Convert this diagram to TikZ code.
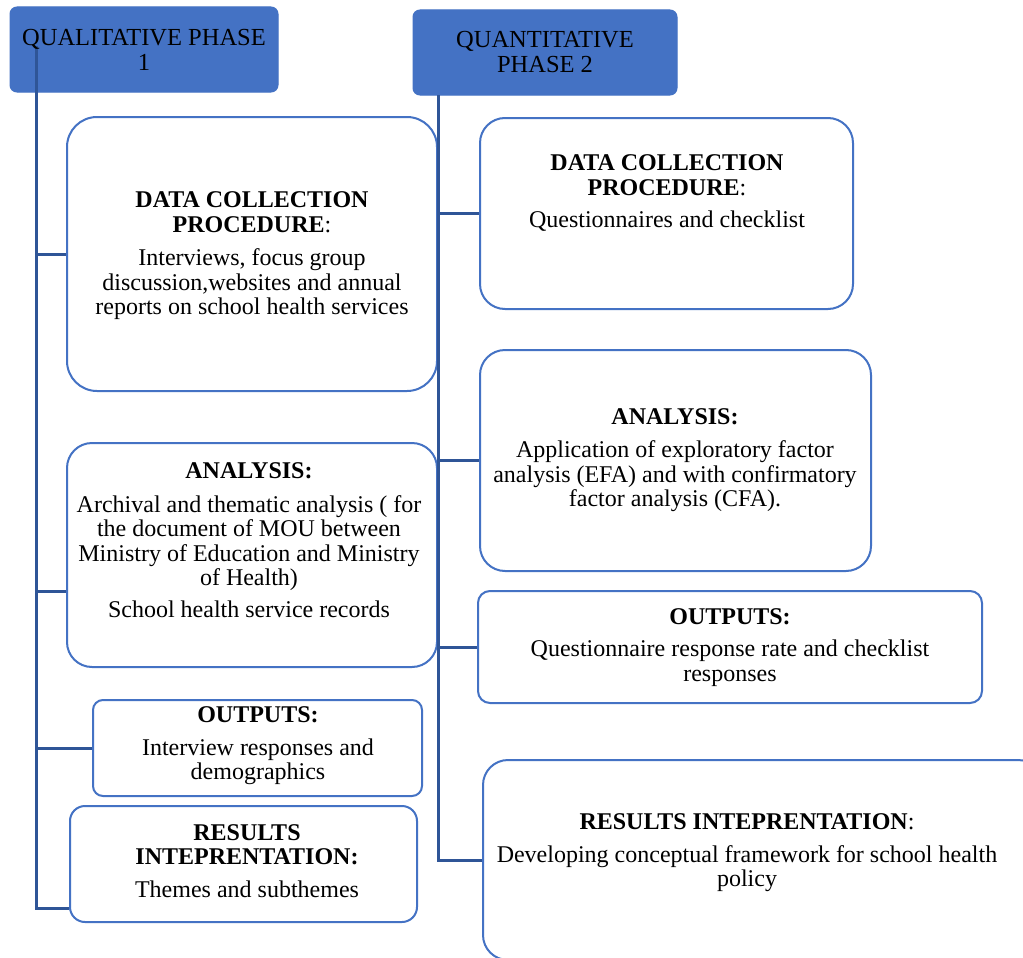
\documentclass[tikz,border=0pt]{standalone}
\usepackage{fontspec}
\setmainfont{Liberation Serif}
\definecolor{hdrblue}{HTML}{4472C4}
\definecolor{boxblue}{HTML}{4472C4}
\definecolor{linkblue}{HTML}{2F5597}
\tikzset{
  hdr/.style={draw=hdrblue, fill=hdrblue, rounded corners=7pt, line width=1pt},
  bx/.style={draw=boxblue, line width=2pt, fill=white},
  link/.style={draw=linkblue, line width=3pt},
  txt/.style={align=center, font=\fontsize{24}{24.5}\selectfont, inner sep=0pt},
  hdrtxt/.style={align=center, font=\fontsize{24.5}{24.5}\selectfont, inner sep=0pt}
}
\begin{document}
\begin{tikzpicture}[x=1pt,y=-1pt]
\useasboundingbox (0,0) rectangle (1023,958);
\clip (0,0) rectangle (1023,958);
\fill[white] (0,0) rectangle (1023,958);
% headers
\node[hdr, minimum width=268pt, minimum height=85pt] (H1) at (144,49.5) {};
\node[hdr, minimum width=264pt, minimum height=85pt] (H2) at (545,52.5) {};
% spines
\coordinate (Ltop) at (36,46);
\coordinate (Lbot) at (36,908);
\coordinate (Rtop) at (438,95);
\coordinate (Rbot) at (438,860);
% boxes left
\node[bx, rounded corners=30pt, minimum width=370pt, minimum height=274pt] (DC1) at (252,254) {};
\node[bx, rounded corners=25pt, minimum width=370pt, minimum height=224pt] (AN1) at (252,555) {};
\node[bx, rounded corners=10pt, minimum width=329pt, minimum height=96pt] (OUT1) at (257.5,748) {};
\node[bx, rounded corners=15pt, minimum width=347pt, minimum height=116pt] (RES1) at (243.5,864) {};
% boxes right
\node[bx, rounded corners=25pt, minimum width=373pt, minimum height=191pt] (DC2) at (666.5,213.5) {};
\node[bx, rounded corners=25pt, minimum width=391pt, minimum height=221pt] (AN2) at (675.5,460.5) {};
\node[bx, rounded corners=12pt, minimum width=504pt, minimum height=112pt] (OUT2) at (730,647) {};
\node[bx, rounded corners=25pt, minimum width=560pt, minimum height=200pt] (RES2) at (763,860) {};
% connectors
\draw[link] (Ltop) -- (Lbot) -- (Lbot -| RES1.west);
\draw[link] (Ltop |- DC1.west) -- (DC1.west);
\draw[link] (Ltop |- Lbot) ++(0,-317) coordinate (a1) -- (a1 -| AN1.west);
\draw[link] (Ltop |- OUT1.west) -- (OUT1.west);
\draw[link] (Rtop) -- (Rbot) -- (Rbot -| RES2.west);
\draw[link] (Rtop |- DC2.west) -- (DC2.west);
\draw[link] (Rtop |- AN2.west) -- (AN2.west);
\draw[link] (Rtop |- OUT2.west) -- (OUT2.west);
% header texts
\node[hdrtxt] (T1) at (144,50) {QUALITATIVE PHASE\\1};
\node[hdrtxt] (T2) at (545,52) {QUANTITATIVE\\PHASE 2};
% left texts
\node[txt] (tDC1) at (252,256) {\textbf{DATA COLLECTION}\\\textbf{PROCEDURE}:\\[9pt]Interviews, focus group\\discussion,websites and annual\\reports on school health services};
\node[txt] (tAN1) at (249,540) {\textbf{ANALYSIS:}\\[9pt]Archival and thematic analysis ( for\\the document of MOU between\\Ministry of Education and Ministry\\of Health)\\[7pt]School health service records};
\node[txt] (tOUT1) at (258,746) {\textbf{OUTPUTS:}\\[8pt]Interview responses and\\demographics};
\node[txt] (tRES1) at (247,861) {\textbf{RESULTS}\\\textbf{INTEPRENTATION:}\\[8pt]Themes and subthemes};
% right texts
\node[txt] (tDC2) at (667,193) {\textbf{DATA COLLECTION}\\\textbf{PROCEDURE}:\\[8pt]Questionnaires and checklist};
\node[txt] (tAN2) at (675,460) {\textbf{ANALYSIS:}\\[9pt]Application of exploratory factor\\analysis (EFA) and with confirmatory\\factor analysis (CFA).};
\node[txt] (tOUT2) at (730,647.5) {\textbf{OUTPUTS:}\\[8pt]Questionnaire response rate and checklist\\responses};
\node[txt] (tRES2) at (747,853) {\textbf{RESULTS INTEPRENTATION}:\\[8pt]Developing conceptual framework for school health\\policy};
\end{tikzpicture}
\end{document}
